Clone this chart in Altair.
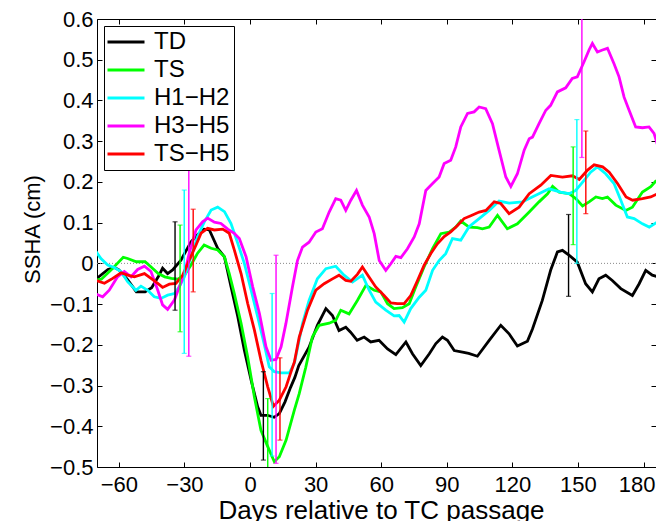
import altair as alt
import pandas as pd

SERIES = ["TD", "TS", "H1−H2", "H3−H5", "TS−H5"]
COLORS = ["#000000", "#00ff00", "#00ffff", "#ff00ff", "#ff0000"]

td_day = [-71, -65, -62, -60, -56, -52, -48, -45, -42, -40, -37.7, -35.4, -31.6, -27, -24, -21, -18.6, -14.8, -11.7, -8.7, -5.6, -2.6, 0.5, 3.5, 5, 8, 11, 13.4, 16, 18.5, 20.5, 22.3, 27, 30.8, 34.7, 37.7, 40.7, 43.8, 46, 49, 52.2, 55.2, 59, 62.9, 66.7, 71.3, 74.3, 78.1, 82, 85, 88, 90.3, 93.4, 97.2, 100, 104, 109.4, 114.7, 118.5, 122.3, 126.9, 129.2, 133.7, 137.5, 140.6, 142.9, 145.9, 149.7, 153.5, 156.6, 159.6, 162.7, 165.7, 169.6, 174.9, 178, 181, 184, 187.2, 189]
td_val = [-0.041, -0.015, -0.01, -0.016, -0.04, -0.07, -0.07, -0.06, -0.033, -0.012, -0.025, -0.016, 0.008, 0.053, 0.07, 0.084, 0.082, 0.037, 0.016, -0.057, -0.131, -0.213, -0.287, -0.352, -0.373, -0.373, -0.378, -0.369, -0.34, -0.305, -0.28, -0.251, -0.206, -0.152, -0.111, -0.128, -0.165, -0.157, -0.169, -0.189, -0.181, -0.193, -0.189, -0.21, -0.224, -0.193, -0.222, -0.251, -0.222, -0.197, -0.181, -0.189, -0.214, -0.218, -0.221, -0.228, -0.189, -0.152, -0.173, -0.203, -0.191, -0.161, -0.091, -0.017, 0.028, 0.032, 0.02, 0.003, -0.05, -0.07, -0.038, -0.029, -0.042, -0.062, -0.079, -0.05, -0.017, -0.029, -0.034, -0.013]

ts_day = [-71, -68, -63.5, -58, -56, -52, -48, -45, -42, -39, -36, -33, -30, -27, -24, -21, -17.8, -14.8, -11.7, -9.5, -7.2, -4.1, -1.1, 2, 5, 8.1, 11.1, 13.4, 16.5, 20.3, 22.5, 25.5, 28.5, 31.6, 36.2, 39.2, 41.5, 45.3, 49.1, 53, 56.8, 59.8, 62.9, 65.9, 69.7, 72.8, 75.8, 79.6, 83.5, 87.3, 91.1, 94.1, 96.4, 100.2, 104, 106.3, 109.4, 113.2, 117.7, 122.3, 127.7, 132.2, 136.1, 138.4, 141.4, 146, 149, 152.1, 155.1, 158.2, 161.2, 163.5, 167.3, 171.9, 174.9, 179.5, 183.3, 185.6, 189]
ts_val = [-0.041, -0.039, -0.016, 0.015, 0.012, 0.004, 0.004, -0.01, -0.025, -0.033, -0.037, -0.039, -0.029, -0.004, 0.025, 0.045, 0.037, 0.033, 0.016, -0.025, -0.074, -0.147, -0.229, -0.328, -0.41, -0.45, -0.487, -0.475, -0.434, -0.36, -0.32, -0.255, -0.181, -0.152, -0.147, -0.14, -0.115, -0.124, -0.091, -0.054, -0.066, -0.07, -0.099, -0.111, -0.109, -0.099, -0.058, -0.009, 0.036, 0.073, 0.077, 0.089, 0.104, 0.089, 0.088, 0.085, 0.089, 0.118, 0.085, 0.097, 0.126, 0.151, 0.171, 0.189, 0.175, 0.171, 0.159, 0.141, 0.151, 0.163, 0.159, 0.163, 0.143, 0.13, 0.138, 0.175, 0.188, 0.202, 0.204]

h12_day = [-71, -68.2, -65.1, -62.1, -59, -56, -52.2, -49.9, -46.8, -43.8, -40.7, -37.7, -34.6, -32.3, -30, -27, -24, -20.9, -17.8, -14.8, -11.7, -8.7, -5.6, -2.6, 0.5, 3.5, 6.6, 8.8, 11.1, 14.2, 18, 20.3, 24, 27, 30.8, 34.7, 39.2, 43, 46.9, 51.4, 54.5, 57.5, 62.1, 65.9, 68.2, 70.5, 73.5, 77.4, 80.4, 83.5, 86.5, 89.5, 92.6, 96.4, 100.2, 104.8, 109.4, 113.9, 118.5, 124.6, 130.7, 136.8, 142.1, 145.9, 149, 152.8, 155.8, 158.9, 162.7, 166.5, 169.6, 172.6, 175.7, 179.5, 182.6, 186.4, 189]
h12_val = [0.033, 0.012, -0.004, -0.01, -0.02, -0.045, -0.066, -0.056, -0.066, -0.082, -0.086, -0.078, -0.074, -0.057, -0.033, 0.016, 0.066, 0.102, 0.131, 0.138, 0.127, 0.098, 0.049, 0.0, -0.066, -0.131, -0.201, -0.254, -0.266, -0.269, -0.269, -0.245, -0.148, -0.091, -0.038, -0.013, -0.007, -0.029, -0.046, -0.029, -0.066, -0.095, -0.115, -0.129, -0.128, -0.144, -0.111, -0.083, -0.066, -0.017, 0.007, 0.024, 0.061, 0.057, 0.09, 0.11, 0.13, 0.153, 0.148, 0.151, 0.167, 0.183, 0.175, 0.171, 0.179, 0.204, 0.224, 0.237, 0.22, 0.196, 0.155, 0.114, 0.11, 0.097, 0.089, 0.102, 0.097]

h35_day = [-71, -67.4, -64.4, -60.6, -57.5, -54.4, -51.4, -48.3, -45.3, -42.2, -40, -37.7, -34.6, -32.3, -30, -27.8, -24.7, -21.7, -19.4, -16.3, -13.3, -10.2, -7.2, -4.9, -1.8, 1.2, 4.3, 7.3, 9.6, 11.9, 14.2, 16.4, 19.4, 21.7, 24, 27, 30.1, 33.1, 36.2, 39.2, 41.5, 43.8, 46.1, 48.7, 51.4, 54.5, 56.8, 59.1, 62.1, 64.4, 66.7, 69, 72, 75.1, 77.4, 80.4, 83.5, 86.5, 88.8, 91.8, 94.1, 96.4, 99.5, 102.5, 104.8, 107.8, 110.9, 113.9, 117, 119.3, 122.3, 125.4, 127.7, 129.2, 132.2, 135.3, 137.5, 140.6, 144.4, 147.4, 149.7, 152.8, 155.1, 156.6, 158.9, 161.2, 163.5, 166.5, 168.8, 171.1, 173.4, 176.4, 179.5, 182.5, 184.8, 187.1, 189]
h35_val = [-0.074, -0.082, -0.066, -0.033, -0.02, -0.033, -0.015, -0.007, -0.02, -0.066, -0.102, -0.113, -0.09, -0.057, -0.025, 0.025, 0.082, 0.102, 0.111, 0.101, 0.098, 0.084, 0.074, 0.061, 0.016, -0.057, -0.123, -0.205, -0.238, -0.236, -0.205, -0.148, -0.058, 0.007, 0.04, 0.052, 0.077, 0.085, 0.126, 0.159, 0.155, 0.13, 0.155, 0.179, 0.143, 0.114, 0.073, 0.007, -0.017, -0.001, 0.017, 0.014, 0.036, 0.065, 0.097, 0.179, 0.196, 0.212, 0.245, 0.253, 0.286, 0.335, 0.368, 0.372, 0.384, 0.38, 0.343, 0.278, 0.212, 0.189, 0.22, 0.278, 0.306, 0.31, 0.343, 0.376, 0.388, 0.421, 0.431, 0.454, 0.458, 0.495, 0.524, 0.54, 0.519, 0.524, 0.528, 0.49, 0.458, 0.408, 0.376, 0.335, 0.333, 0.335, 0.319, 0.278, 0.27]

tsh5_day = [-71, -66.6, -62.8, -59, -56, -52.9, -48.3, -45.3, -42.2, -40, -36.9, -33.9, -30.8, -27.8, -24.7, -22.4, -19.4, -16.3, -12.5, -9.5, -7.2, -4.1, -1.1, 2, 5, 8.1, 10.7, 13.4, 16.5, 18.5, 20.3, 22.5, 26.3, 30.1, 33.9, 37.7, 40.7, 43.8, 46.1, 49.1, 51.4, 54.5, 57.5, 61.3, 64.4, 67.4, 70.5, 73.5, 76.6, 79.6, 82.7, 85.7, 88.8, 91.8, 94.9, 97.9, 101, 104.8, 107.9, 111.7, 114.7, 118.5, 123.1, 127.7, 133, 137.6, 142.9, 147.5, 150.6, 154.4, 157.4, 161.3, 164.3, 168.1, 172, 175, 179.5, 183.3, 186.4, 189]
tsh5_val = [-0.041, -0.049, -0.037, -0.023, -0.029, -0.033, -0.025, -0.037, -0.049, -0.059, -0.051, -0.049, -0.029, 0.008, 0.045, 0.074, 0.086, 0.082, 0.084, 0.074, 0.033, -0.025, -0.098, -0.164, -0.238, -0.303, -0.351, -0.336, -0.303, -0.27, -0.242, -0.181, -0.115, -0.066, -0.05, -0.038, -0.029, -0.042, -0.044, -0.027, -0.009, -0.034, -0.058, -0.079, -0.097, -0.099, -0.099, -0.079, -0.042, -0.005, 0.024, 0.048, 0.066, 0.077, 0.093, 0.11, 0.117, 0.126, 0.13, 0.151, 0.147, 0.122, 0.138, 0.171, 0.192, 0.216, 0.212, 0.215, 0.206, 0.229, 0.242, 0.237, 0.224, 0.196, 0.163, 0.155, 0.159, 0.163, 0.171, 0.17]

eb_series = ["TD", "TS", "H1−H2", "H3−H5", "TS−H5"] * 3
eb_day = [-34.3, -32, -30.1, -28, -26,
          6.1, 8.1, 10.1, 11.9, 13.7,
          145.7, 147.8, 149.5, 151.8, 153.6]
eb_lo = [-0.115, -0.168, -0.221, -0.228, -0.07,
         -0.483, -0.53, -0.473, -0.491, -0.434,
         -0.081, 0.046, 0.0, 0.26, 0.122]
eb_hi = [0.102, 0.094, 0.18, 0.25, 0.133,
         -0.266, -0.332, -0.074, 0.02, -0.232,
         0.12, 0.286, 0.353, 0.65, 0.325]

x_ticks = [-60, -30, 0, 30, 60, 90, 120, 150, 180]
y_ticks = [-0.5, -0.4, -0.3, -0.2, -0.1, 0, 0.1, 0.2, 0.3, 0.4, 0.5, 0.6]

rows = []
for k, (name, days, vals) in enumerate(zip(SERIES, [td_day, ts_day, h12_day, h35_day, tsh5_day],
                                            [td_val, ts_val, h12_val, h35_val, tsh5_val])):
    for d, v in zip(days, vals):
        rows.append({"day": d, "ssha": v, "series": name, "k": k})
lines_df = pd.DataFrame(rows)
eb_df = pd.DataFrame({"day": eb_day, "lo": eb_lo, "hi": eb_hi, "series": eb_series})
zero_df = pd.DataFrame({"y": [0]})

W, H = 559, 448
FONT = "Liberation Sans"
xs = alt.Scale(domain=[-70, 185.7], nice=False, zero=False)
ys = alt.Scale(domain=[-0.5, 0.6], nice=False, zero=False)
cs = alt.Scale(domain=SERIES, range=COLORS)

x_main = alt.Axis(orient="bottom", values=x_ticks, tickSize=0, labelFontSize=22, labelPadding=7,
                  labelColor="black", domain=True, domainColor="black", domainWidth=1, grid=False,
                  labelOffset={"expr": "datum.value == 180 ? -7 : 0"},
                  title="Days relative to TC passage", titleFontSize=26, titleFontWeight="normal",
                  titleColor="black", labelFont=FONT, titleFont=FONT,
                  titleX=284, titleY=51, titleBaseline="alphabetic", titleAlign="center")
y_main = alt.Axis(orient="left", values=y_ticks, tickSize=0, labelFontSize=22, labelPadding=4,
                  labelColor="black", domain=True, domainColor="black", domainWidth=1, grid=False,
                  labelExpr="datum.value == 0 ? '0' : format(datum.value, '.1f')",
                  title="SSHA (cm)", titleFontSize=22, titleFontWeight="normal", titleColor="black",
                  labelFont=FONT, titleFont=FONT, titleAngle=270,
                  titleX=-58, titleY=210, titleBaseline="alphabetic", titleAlign="center")

x_in_bottom = alt.Axis(orient="top", offset=-H, values=x_ticks, labels=False, tickSize=5,
                       tickColor="black", domain=False, grid=False, title=None)
y_in_left = alt.Axis(orient="right", offset=-W, values=y_ticks, labels=False, tickSize=5,
                     tickColor="black", domain=False, grid=False, title=None)
x_in_top = alt.Axis(orient="bottom", offset=-H, values=x_ticks, labels=False, tickSize=5,
                    tickColor="black", domain=True, domainColor="black", grid=False, title=None)
y_in_right = alt.Axis(orient="left", offset=-W, values=y_ticks, labels=False, tickSize=5,
                      tickColor="black", domain=False, grid=False, title=None)

lines = alt.Chart(lines_df).mark_line(strokeWidth=2.8, clip=True).encode(
    x=alt.X("day:Q", scale=xs, axis=x_main),
    y=alt.Y("ssha:Q", scale=ys, axis=y_main),
    color=alt.Color("series:N", scale=cs, sort=SERIES,
                    legend=alt.Legend(title=None, orient="none", legendX=7, legendY=7,
                                      symbolType="M-3,0H3", symbolSize=(37 / 3) ** 2,
                                      symbolStrokeWidth=2.8, symbolFillColor="transparent",
                                      symbolOffset=6,
                                      labelFontSize=24, labelFont=FONT, labelColor="black",
                                      labelOffset=16, rowPadding=4, padding=4,
                                      strokeColor="black", fillColor="white")),
    detail="series:N",
    order="k:Q",
)

zero = alt.Chart(zero_df).mark_rule(color="#888888", strokeWidth=1, strokeDash=[1, 2]).encode(
    y=alt.Y("y:Q", scale=ys, axis=y_in_left),
    x=alt.value(0), x2=alt.value(W),
)
zero_ticks = alt.Chart(zero_df).mark_rule(opacity=0).encode(
    x=alt.X("y:Q", scale=xs, axis=x_in_bottom),
    y=alt.Y("y:Q", scale=ys, axis=None),
)

bars = alt.Chart(eb_df).mark_rule(strokeWidth=1.4, clip=True).encode(
    x=alt.X("day:Q", scale=xs, axis=x_in_top),
    y=alt.Y("lo:Q", scale=ys, axis=y_in_right),
    y2="hi:Q",
    color=alt.Color("series:N", scale=cs, legend=None),
)
cap_lo = alt.Chart(eb_df).mark_tick(orient="horizontal", size=5, thickness=1.2, clip=True).encode(
    x=alt.X("day:Q", scale=xs, axis=None),
    y=alt.Y("lo:Q", scale=ys, axis=None),
    color=alt.Color("series:N", scale=cs, legend=None),
)
cap_hi = alt.Chart(eb_df).mark_tick(orient="horizontal", size=5, thickness=1.2, clip=True).encode(
    x=alt.X("day:Q", scale=xs, axis=None),
    y=alt.Y("hi:Q", scale=ys, axis=None),
    color=alt.Color("series:N", scale=cs, legend=None),
)

chart = alt.layer(zero, zero_ticks, lines, bars, cap_lo, cap_hi).resolve_axis(
    x="independent", y="independent"
).properties(
    width=W, height=H,
    autosize=alt.AutoSizeParams(type="none"),
    padding={"left": 89, "top": 11, "right": 0, "bottom": 54},
).configure_view(stroke=None).configure(font=FONT)

chart.save("out.html", embed_options={"renderer": "svg", "actions": False})
